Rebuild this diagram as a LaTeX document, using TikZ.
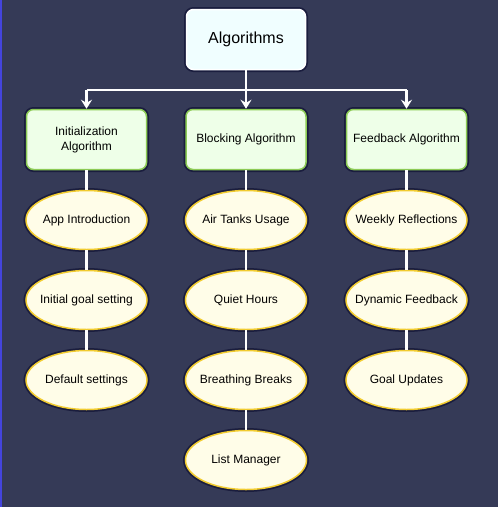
\documentclass[tikz,border=0pt]{standalone}
\usepackage{fontspec}
\setmainfont{Liberation Sans}
\usetikzlibrary{arrows.meta,shapes.geometric}
\definecolor{bg}{HTML}{353A57}
\definecolor{halo}{HTML}{141638}
\definecolor{topfill}{HTML}{F0FEFF}
\definecolor{grnfill}{HTML}{EEFFE8}
\definecolor{grnline}{HTML}{8CCB55}
\definecolor{ellfill}{HTML}{FFFDE8}
\definecolor{ellline}{HTML}{F2CC30}
\definecolor{edgeblue}{HTML}{4444DD}
\tikzset{
  haloed/.style={preaction={draw=halo,line width=5pt,opacity=0.8}},
  topbox/.style={haloed,draw=white,line width=1.5pt,fill=topfill,rounded corners=7pt,
    minimum width=119pt,minimum height=60pt,inner sep=0pt,font=\fontsize{16}{19}\selectfont},
  algbox/.style={haloed,draw=grnline,line width=1.5pt,fill=grnfill,rounded corners=7pt,
    minimum width=120pt,minimum height=60pt,inner sep=0pt,align=center,
    font=\fontsize{12}{15}\selectfont},
  leaf/.style={haloed,ellipse,draw=ellline,line width=1.5pt,fill=ellfill,
    minimum width=121pt,minimum height=59pt,inner xsep=-10pt,inner ysep=0pt,
    font=\fontsize{12}{15}\selectfont},
  link/.style={draw=white,line width=2.5pt},
  arrowlink/.style={draw=white,line width=2.2pt,-{Stealth[length=9pt,width=11pt,inset=3pt]}},
}
\begin{document}
\begin{tikzpicture}[x=1pt,y=-1pt]
\fill[bg] (0,0) rectangle (498,507);
\useasboundingbox (0,0) rectangle (498,507);
\draw[edgeblue,line width=1.5pt] (0.75,0) -- (0.75,507);

\coordinate (jl) at (86.5,90);
\coordinate (jm) at (246,90);
\coordinate (jr) at (406.5,90);

\node[topbox] (top) at (246,39.5) {Algorithms};

\node[algbox] (init) at (86.5,139.5) {Initialization\\Algorithm};
\node[algbox] (block) at (246,139.5) {Blocking Algorithm};
\node[algbox] (feed) at (406.5,139.5) {Feedback Algorithm};

\node[leaf] (a1) at (86.5,220) {App Introduction};
\node[leaf] (a2) at (86.5,300) {Initial goal setting};
\node[leaf] (a3) at (86.5,380) {Default settings};

\node[leaf] (b1) at (246,220) {Air Tanks Usage};
\node[leaf] (b2) at (246,300) {Quiet Hours};
\node[leaf] (b3) at (246,380) {Breathing Breaks};
\node[leaf] (b4) at (246,460) {List Manager};

\node[leaf] (c1) at (406.5,220) {Weekly Reflections};
\node[leaf] (c2) at (406.5,300) {Dynamic Feedback};
\node[leaf] (c3) at (406.5,380) {Goal Updates};

\draw[link] (init.south) -- (a1.north);
\draw[link] (block.south) -- (b1.north);
\draw[link] (feed.south) -- (c1.north);
\draw[link] (a1.south) -- (a2.north);
\draw[link] (a2.south) -- (a3.north);
\draw[link] (b1.south) -- (b2.north);
\draw[link] (b2.south) -- (b3.north);
\draw[link] (b3.south) -- (b4.north);
\draw[link] (c1.south) -- (c2.north);
\draw[link] (c2.south) -- (c3.north);

\draw[link] (top.south) -- (jm);
\draw[link] (jl) -- (jr);
\draw[arrowlink] (jl) -- (init.north);
\draw[arrowlink] (jm) -- (block.north);
\draw[arrowlink] (jr) -- (feed.north);
\end{tikzpicture}
\end{document}
